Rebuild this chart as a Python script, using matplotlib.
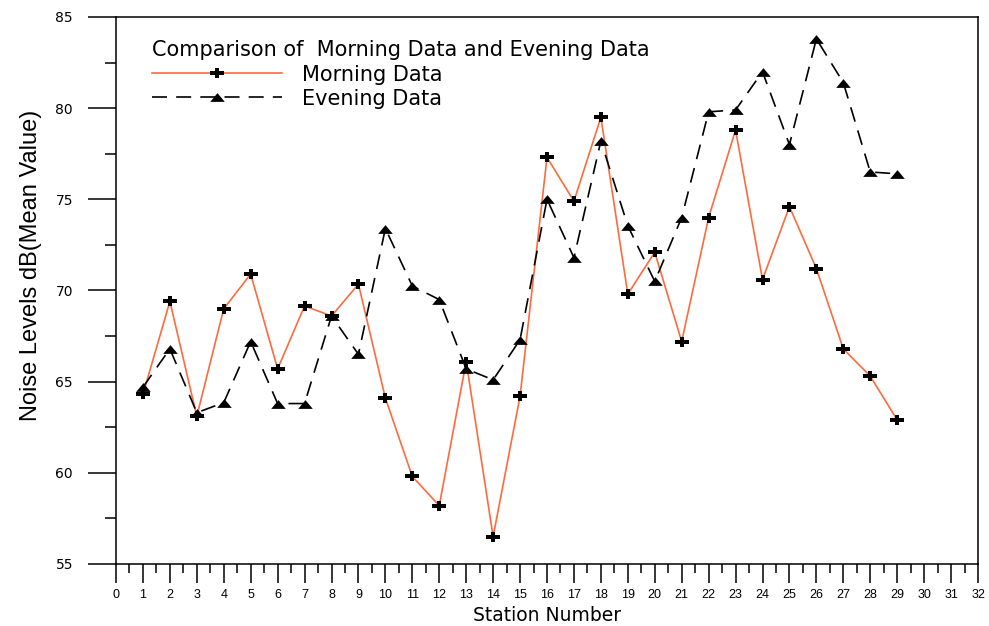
import matplotlib
matplotlib.use("Agg")
import matplotlib.pyplot as plt
from matplotlib.ticker import MultipleLocator

stations = list(range(1, 30))
morning = [64.3, 69.4, 63.1, 69.0, 70.9, 65.7, 69.15, 68.6, 70.35, 64.1,
           59.8, 58.2, 66.1, 56.5, 64.2, 77.3, 74.9, 79.5, 69.8, 72.1,
           67.2, 74.0, 78.8, 70.6, 74.6, 71.2, 66.8, 65.3, 62.9]
evening = [64.7, 66.8, 63.3, 63.85, 67.2, 63.8, 63.8, 68.6, 66.5, 73.4,
           70.25, 69.5, 65.7, 65.1, 67.3, 75.0, 71.8, 78.2, 73.55, 70.5,
           74.0, 79.8, 79.9, 82.0, 78.0, 83.8, 81.4, 76.5, 76.4]

legend_title = "Comparison of  Morning Data and Evening Data"
labels = ["Morning Data", "Evening Data"]

# squashed plus and flat triangle markers
t = 0.27
plus = [(-1, -t), (-t, -t), (-t, -0.7), (t, -0.7), (t, -t), (1, -t), (1, t),
        (t, t), (t, 0.7), (-t, 0.7), (-t, t), (-1, t), (-1, -t)]
tri = [(-1, -0.6), (1, -0.6), (0, 0.6), (-1, -0.6)]

fig = plt.figure(figsize=(9.89, 6.26), dpi=100)
ax = fig.add_axes([116 / 989, 62 / 626, 862 / 989, 547 / 626])

ax.plot(stations, morning, color="#ff6a3d", lw=1.2, marker=plus, ms=10.5,
        mfc="black", mec="black", mew=0, label=labels[0])
ax.plot(stations, evening, color="black", lw=1.2, dashes=(9, 5.5), marker=tri,
        ms=10.5, mfc="black", mec="black", mew=0, label=labels[1])

ax.set_xlim(0, 32)
ax.set_ylim(55, 85)
ax.xaxis.set_major_locator(MultipleLocator(1))
ax.xaxis.set_minor_locator(MultipleLocator(0.5))
ax.yaxis.set_major_locator(MultipleLocator(5))
ax.yaxis.set_minor_locator(MultipleLocator(2.5))

for s in ax.spines.values():
    s.set_linewidth(1.1)

ax.tick_params(axis="x", which="major", direction="out", length=13.7, width=1.1,
               pad=4.5, labelsize=9)
ax.tick_params(axis="x", which="minor", direction="out", length=6.5, width=1.1)
ax.tick_params(axis="y", which="major", direction="out", length=20, width=1.1,
               pad=11, labelsize=10)
ax.tick_params(axis="y", which="minor", direction="out", length=8, width=1.1)
for lab in ax.get_xticklabels():
    lab.set_family("Liberation Sans")
for lab in ax.get_yticklabels():
    lab.set_family("DejaVu Sans")

ax.set_xlabel("Station Number", fontsize=13.5, family="DejaVu Sans", va="bottom")
ax.xaxis.set_label_coords(547 / 989, 1 / 626, transform=fig.transFigure)
ax.set_ylabel("Noise Levels dB(Mean Value)", fontsize=17, family="Liberation Sans")
ax.yaxis.set_label_coords(-0.086, 0.546)

ax.text(0.0418, 0.9287, legend_title, transform=ax.transAxes, fontsize=15,
        family="DejaVu Sans", ha="left", va="baseline")
leg = ax.legend(loc="upper left", bbox_to_anchor=(0.0418, 0.913), frameon=False,
                fontsize=15, handlelength=6.25, handletextpad=0.96,
                labelspacing=0.2, borderpad=0, borderaxespad=0, numpoints=1)
for txt in leg.get_texts():
    txt.set_family("DejaVu Sans")

fig.savefig("out.png", dpi=100)
